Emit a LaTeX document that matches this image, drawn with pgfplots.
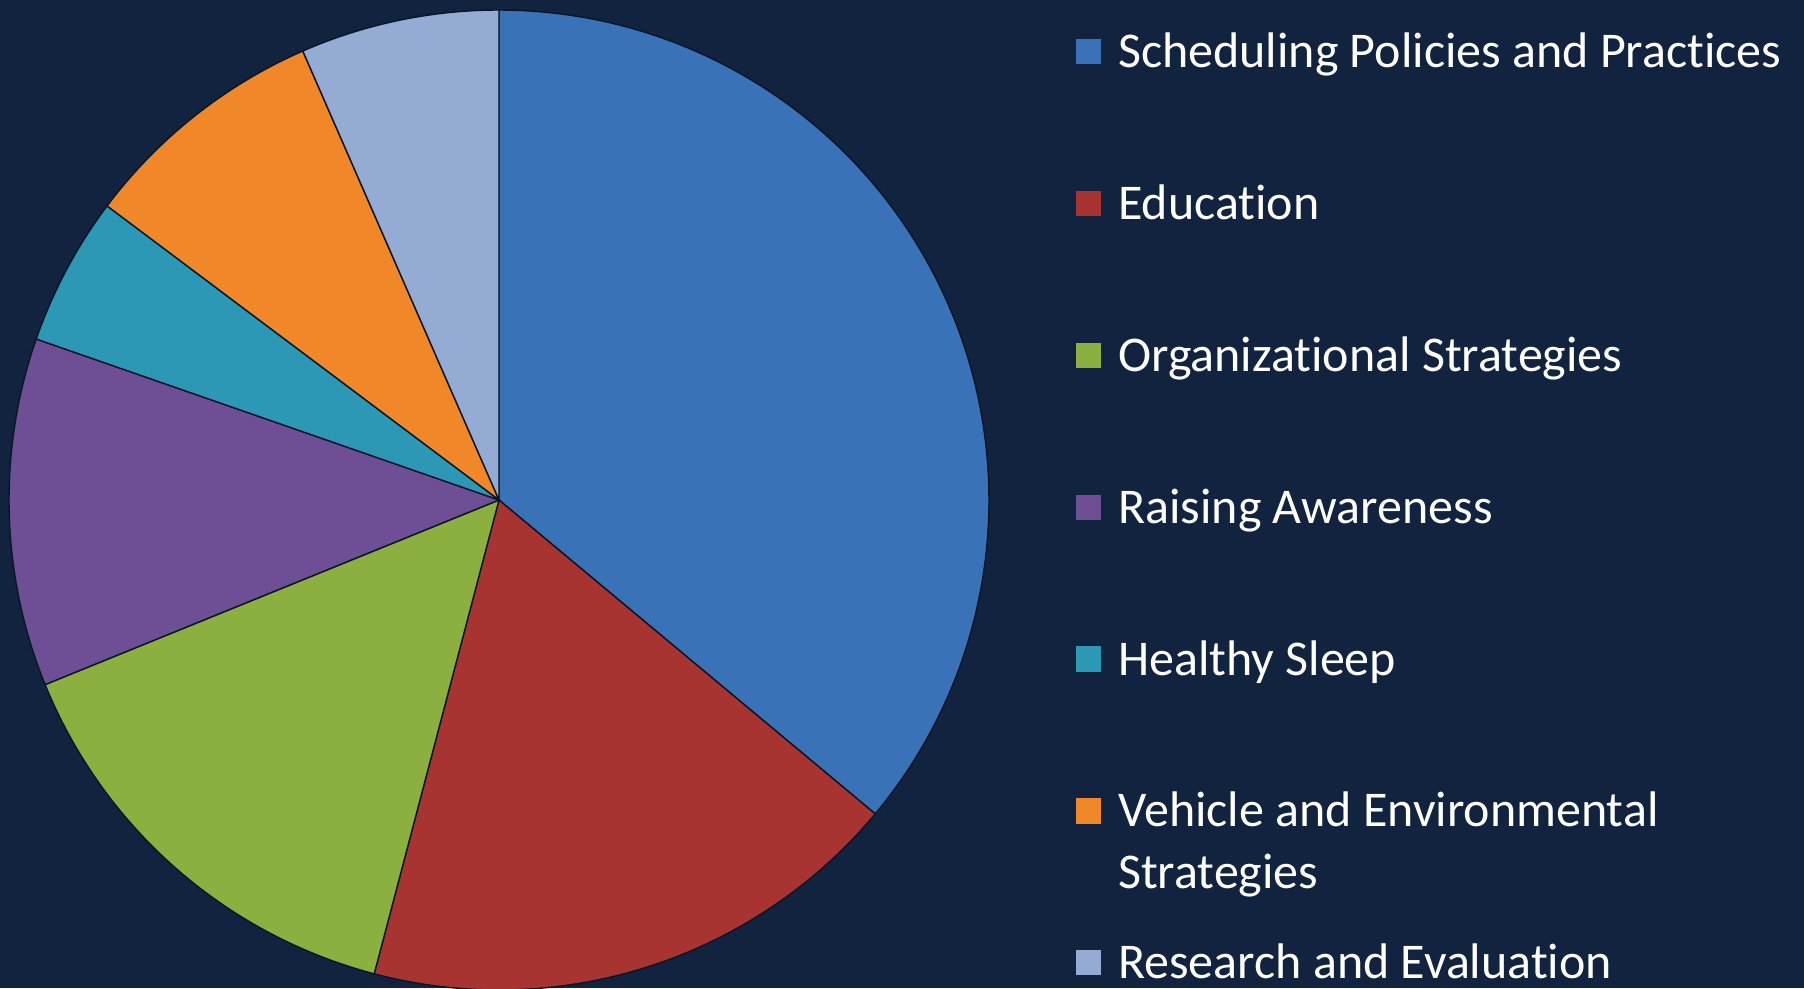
\documentclass[border=0pt]{standalone}
\usepackage{pgfplots}
\pgfplotsset{compat=1.18}
\usepackage{pgfplotstable}
\usepackage{fontspec}
\setmainfont[Ligatures=NoCommon]{Carlito}
\definecolor{bg}{RGB}{17,35,63}
\definecolor{slice0}{RGB}{58,114,184}
\definecolor{slice1}{RGB}{168,52,50}
\definecolor{slice2}{RGB}{140,176,64}
\definecolor{slice3}{RGB}{110,78,148}
\definecolor{slice4}{RGB}{44,152,182}
\definecolor{slice5}{RGB}{240,135,40}
\definecolor{slice6}{RGB}{148,172,212}
\pgfplotstableread[col sep=comma]{
category,value
Scheduling Policies and Practices,22
Education,11
Organizational Strategies,9
Raising Awareness,7
Healthy Sleep,3
Vehicle and Environmental Strategies,5
Research and Evaluation,4
}\piedata
\begin{document}
\begin{tikzpicture}
\fill[bg] (0,0) rectangle (451pt,247pt);
\begin{axis}[
  at={(0,0)}, anchor=south west,
  x=0.25pt, y=0.25pt,
  xmin=0, xmax=1804, ymin=0, ymax=988,
  hide axis,
  legend image code/.code={\fill[#1,draw=none] (0pt,-3.15pt) rectangle (6.3pt,3.15pt);},
  legend cell align=left,
  legend style={
    at={(axis cs:1076,952.5)}, anchor=north west,
    draw=none, fill=none, inner sep=0pt, outer sep=0pt,
    text=white,
    font=\fontsize{12.5pt}{15.4pt}\selectfont,
    row sep=29.97pt, column sep=4.25pt,
    nodes={inner sep=0pt, outer sep=0pt, text height=8pt, text depth=0pt},
  },
]
\pgfplotstablegetrowsof{\piedata}
\pgfmathsetmacro{\nrows}{int(\pgfplotsretval-1)}
\def\total{0}
\pgfplotsforeachungrouped \i in {0,...,\nrows}{%
  \pgfplotstablegetelem{\i}{value}\of\piedata
  \pgfmathsetmacro{\total}{\total+\pgfplotsretval}%
  \global\let\total\total
}
\def\cur{90}
\pgfplotsforeachungrouped \i in {0,...,\nrows}{%
  \pgfplotstablegetelem{\i}{value}\of\piedata
  \pgfmathsetmacro{\endang}{\cur-360*\pgfplotsretval/\total}%
  \edef\temp{\noexpand\addplot[fill=slice\i, draw=bg!60!black, line width=0.35pt,
     domain=\endang:\cur, samples=120]
     ({499+490*cos(x)},{488+490*sin(x)}) -- (axis cs:499,488) -- cycle;}%
  \temp
  \global\let\cur\endang
}
\legend{Scheduling Policies and Practices, Education, Organizational Strategies,
  Raising Awareness, Healthy Sleep,
  {\smash{\begin{tabular}[t]{@{}l@{}}Vehicle and Environmental\\Strategies\end{tabular}}},
  Research and Evaluation}
\end{axis}
\pgfresetboundingbox
\useasboundingbox (0,0) rectangle (451pt,247pt);
\end{tikzpicture}
\end{document}
